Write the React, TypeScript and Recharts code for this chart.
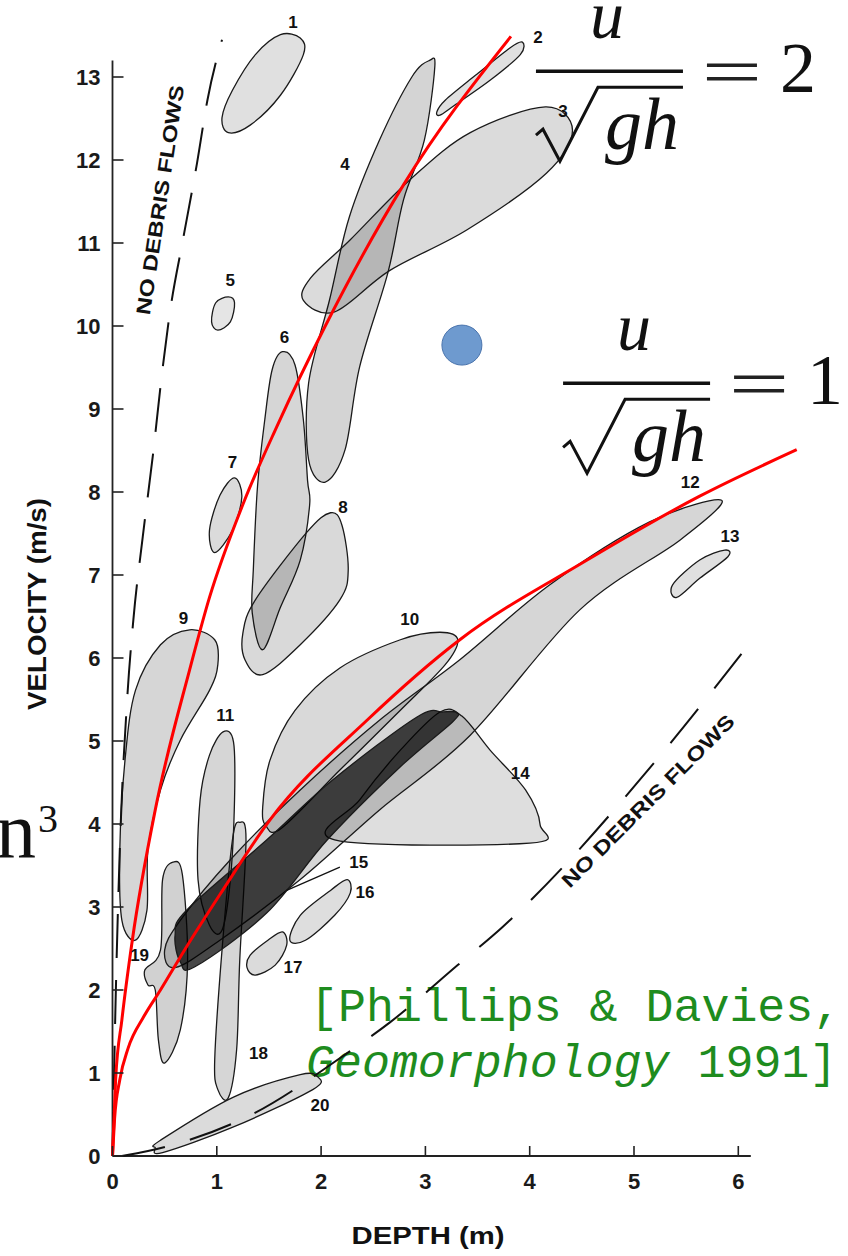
import React from "react";
import { ScatterChart, Scatter, XAxis, YAxis, ReferenceLine } from "recharts";

// depth (m) along x, velocity (m/s) along y
const xTicks = [0, 1, 2, 3, 4, 5, 6];
const yTicks = [0, 1, 2, 3, 4, 5, 6, 7, 8, 9, 10, 11, 12, 13];

// outlines of the numbered fields, [depth, velocity]
const blob1 = [[1.11, 12.33], [1.32, 12.42], [1.61, 12.78], [1.83, 13.27], [1.8, 13.47], [1.61, 13.51], [1.37, 13.27], [1.15, 12.84], [1.05, 12.51]];
const blob2 = [[3.11, 12.58], [3.19, 12.72], [3.48, 13.02], [3.81, 13.35], [3.93, 13.42], [3.91, 13.27], [3.62, 12.96], [3.28, 12.66], [3.14, 12.54]];
const blob3 = [[1.83, 10.31], [2.13, 10.17], [2.66, 10.67], [3.4, 11.16], [4.16, 11.84], [4.41, 12.36], [4.15, 12.64], [3.43, 12.33], [2.85, 11.76], [2.28, 11.04], [1.9, 10.58]];
const blob4 = [[3.04, 13.2], [3.09, 13.12], [2.99, 12.24], [2.79, 11.52], [2.64, 10.64], [2.37, 9.51], [2.23, 8.51], [2.04, 8.12], [1.88, 8.39], [1.88, 9.31], [2.08, 10.31], [2.27, 11.31], [2.56, 12.24], [2.87, 13.0]];
const blob5 = [[1.11, 10.35], [1.17, 10.28], [1.13, 10.05], [1.01, 9.95], [0.95, 10.05], [0.99, 10.28]];
const blob6 = [[1.63, 9.69], [1.75, 9.53], [1.83, 8.87], [1.87, 8.14], [1.89, 7.84], [1.8, 7.18], [1.61, 6.61], [1.44, 6.1], [1.34, 6.54], [1.35, 7.06], [1.39, 8.06], [1.46, 8.87], [1.53, 9.47]];
const blob7 = [[1.17, 8.17], [1.24, 7.94], [1.15, 7.54], [0.98, 7.27], [0.93, 7.54], [1.03, 7.96]];
const blob8 = [[2.09, 7.75], [2.2, 7.6], [2.26, 7.06], [2.18, 6.7], [1.8, 6.16], [1.44, 5.8], [1.27, 5.98], [1.25, 6.3], [1.37, 6.7], [1.86, 7.51]];
const blob9 = [[0.74, 6.34], [0.98, 6.22], [1.01, 5.92], [0.93, 5.61], [0.65, 5.01], [0.46, 4.41], [0.34, 3.69], [0.33, 2.96], [0.22, 2.6], [0.09, 2.84], [0.07, 3.69], [0.12, 4.77], [0.22, 5.61], [0.46, 6.16]];
const blob10 = [[3.14, 6.31], [3.31, 6.22], [3.19, 5.92], [2.76, 5.37], [2.18, 4.65], [1.62, 3.95], [1.47, 3.98], [1.44, 4.2], [1.51, 4.77], [1.75, 5.37], [2.18, 5.88], [2.76, 6.22]];
const blob11 = [[1.06, 5.11], [1.16, 4.99], [1.17, 4.29], [1.13, 3.33], [1.05, 2.72], [0.93, 2.78], [0.82, 3.33], [0.84, 4.29], [0.93, 4.83]];
const blob12 = [[5.84, 7.9], [5.15, 7.64], [4.19, 6.88], [3.33, 5.98], [2.56, 5.25], [1.8, 4.41], [1.13, 3.57], [0.65, 2.84], [0.5, 2.48], [0.6, 2.27], [1.03, 2.6], [1.8, 3.33], [2.56, 4.17], [3.43, 5.07], [4.48, 6.58], [5.44, 7.42]];
const blob13 = [[5.41, 6.73], [5.63, 6.96], [5.9, 7.22], [5.87, 7.3], [5.63, 7.18], [5.37, 6.88]];
const blob14 = [[2.13, 3.81], [4.0, 3.77], [4.1, 3.99], [3.96, 4.41], [3.62, 4.89], [3.35, 5.3], [3.14, 5.35], [2.76, 4.89], [2.37, 4.29]];
const blob15 = [[3.17, 5.35], [2.92, 5.29], [2.11, 4.53], [1.48, 3.81], [0.71, 2.96], [0.6, 2.66], [0.65, 2.34], [0.79, 2.28], [1.48, 2.93], [2.06, 3.81], [2.76, 4.69], [3.26, 5.23], [3.3, 5.34]];
const blob16 = [[1.7, 2.6], [1.8, 2.9], [2.09, 3.2], [2.25, 3.33], [2.28, 3.17], [2.13, 2.9], [1.85, 2.6]];
const blob17 = [[1.32, 2.42], [1.49, 2.6], [1.63, 2.7], [1.67, 2.54], [1.56, 2.3], [1.37, 2.18], [1.29, 2.27]];
const blob18 = [[1.22, 4.02], [1.28, 3.81], [1.22, 2.36], [1.19, 1.28], [1.11, 0.7], [1.01, 0.8], [0.98, 1.16], [1.05, 2.48], [1.15, 3.81]];
const blob19 = [[0.58, 3.54], [0.67, 3.39], [0.72, 2.36], [0.65, 1.52], [0.5, 1.12], [0.44, 1.4], [0.41, 2.0], [0.34, 2.06], [0.31, 2.24], [0.46, 2.48], [0.48, 3.33]];
const blob20 = [[0.41, 0.1], [0.46, 0.19], [1.16, 0.71], [1.8, 0.98], [1.97, 0.95], [1.92, 0.8], [1.16, 0.35], [0.48, 0.04]];

// boundary lines and the two Froude curves
const leftLimit = [[0, 0], [0.03, 1.88], [0.07, 3.69], [0.14, 5.49], [0.2, 6.46], [0.29, 7.46], [0.39, 8.47], [0.46, 9.27], [0.55, 10.16], [0.68, 11.07], [0.81, 11.96], [0.91, 12.72], [1.05, 13.45]];
const rightLimit = [[0.09, 0], [0.34, 0.06], [1.32, 0.49], [2.25, 1.24], [2.66, 1.61], [3.31, 2.3], [3.74, 2.76], [5.32, 4.93], [6.11, 6.18]];
const froude2 = [[0, 0], [0.03, 0.92], [0.09, 1.64], [0.19, 2.6], [0.41, 4.17], [0.74, 5.86], [0.93, 6.73], [1.25, 7.85], [1.58, 8.8], [2.04, 10.0], [2.79, 11.7], [3.82, 13.49]];
const froude1 = [[0, 0], [0.02, 0.45], [0.07, 0.92], [0.15, 1.3], [0.3, 1.68], [0.46, 2.0], [0.7, 2.5], [1.03, 3.15], [1.51, 4.05], [2.44, 5.25], [3.33, 6.22], [4.51, 7.15], [5.63, 7.95], [6.56, 8.51]];
const leader15 = [[2.18, 3.48], [1.67, 3.2]];

const fieldLabels = [
  { x: 1.73, y: 13.66, t: "1" }, { x: 4.08, y: 13.48, t: "2" }, { x: 4.32, y: 12.58, t: "3" },
  { x: 2.23, y: 11.94, t: "4" }, { x: 1.13, y: 10.55, t: "5" }, { x: 1.65, y: 9.86, t: "6" },
  { x: 1.15, y: 8.35, t: "7" }, { x: 2.21, y: 7.81, t: "8" }, { x: 0.68, y: 6.48, t: "9" },
  { x: 2.85, y: 6.46, t: "10" }, { x: 1.08, y: 5.31, t: "11" }, { x: 5.54, y: 8.11, t: "12" },
  { x: 5.92, y: 7.46, t: "13" }, { x: 3.91, y: 4.61, t: "14" }, { x: 2.36, y: 3.54, t: "15" },
  { x: 2.42, y: 3.17, t: "16" }, { x: 1.73, y: 2.27, t: "17" }, { x: 1.4, y: 1.24, t: "18" },
  { x: 0.26, y: 2.42, t: "19" }, { x: 1.99, y: 0.61, t: "20" },
];
const formulas = [
  { x: 4.06, y: 13.07, rhs: "2" },
  { x: 4.32, y: 9.31, rhs: "1" },
];
const marker = [{ x: 3.35, y: 9.77 }];

const toPts = (arr: number[][]) => arr.map(([x, y]) => ({ x, y }));

const blobs = [
  { id: "b9", pts: blob9, shade: 0.16 },
  { id: "b11", pts: blob11, shade: 0.16 },
  { id: "b18", pts: blob18, shade: 0.16 },
  { id: "b19", pts: blob19, shade: 0.18 },
  { id: "b20", pts: blob20, shade: 0.14 },
  { id: "b10", pts: blob10, shade: 0.15 },
  { id: "b14", pts: blob14, shade: 0.13 },
  { id: "b12", pts: blob12, shade: 0.16 },
  { id: "b15", pts: blob15, shade: 0.72 },
  { id: "b16", pts: blob16, shade: 0.13 },
  { id: "b17", pts: blob17, shade: 0.14 },
  { id: "b13", pts: blob13, shade: 0.12 },
  { id: "b6", pts: blob6, shade: 0.16 },
  { id: "b8", pts: blob8, shade: 0.15 },
  { id: "b7", pts: blob7, shade: 0.14 },
  { id: "b5", pts: blob5, shade: 0.1 },
  { id: "b4", pts: blob4, shade: 0.17 },
  { id: "b3", pts: blob3, shade: 0.14 },
  { id: "b2", pts: blob2, shade: 0.12 },
  { id: "b1", pts: blob1, shade: 0.12 },
];

const SANS = "'Liberation Sans', Arial, Helvetica, sans-serif";
const SERIF = "'Liberation Serif', 'Times New Roman', serif";
const MONO = "'Liberation Mono', 'Courier New', monospace";

// closed catmull-rom through the pixel points
const closedPath = (pts: { x: number; y: number }[]) => {
  const n = pts.length;
  let d = `M${pts[0].x},${pts[0].y}`;
  for (let i = 0; i < n; i++) {
    const p0 = pts[(i - 1 + n) % n];
    const p1 = pts[i];
    const p2 = pts[(i + 1) % n];
    const p3 = pts[(i + 2) % n];
    const c1x = p1.x + (p2.x - p0.x) / 6;
    const c1y = p1.y + (p2.y - p0.y) / 6;
    const c2x = p2.x - (p3.x - p1.x) / 6;
    const c2y = p2.y - (p3.y - p1.y) / 6;
    d += ` C${c1x},${c1y} ${c2x},${c2y} ${p2.x},${p2.y}`;
  }
  return d + "Z";
};

const noDot = () => <g />;

const XTick = (p: any) => (
  <g>
    <line x1={p.x} x2={p.x} y1={p.y} y2={p.y - 10} stroke="#222" strokeWidth={1.6} />
    <text x={p.x} y={p.y + 33} textAnchor="middle" fontFamily={SANS} fontSize={22} fontWeight="bold" fill="#1a1a1a">
      {p.payload.value}
    </text>
  </g>
);

const YTick = (p: any) => (
  <g>
    <line x1={p.x} x2={p.x + 11} y1={p.y} y2={p.y} stroke="#222" strokeWidth={1.6} />
    <text x={p.x - 12} y={p.y + 8} textAnchor="end" fontFamily={SANS} fontSize={22} fontWeight="bold" fill="#1a1a1a">
      {p.payload.value}
    </text>
  </g>
);

const FieldLabel = (p: any) => (
  <text x={p.cx} y={p.cy} textAnchor="middle" dominantBaseline="central" fontFamily={SANS} fontSize={17} fontWeight="bold" fill="#111">
    {p.payload.t}
  </text>
);

const Formula = (p: any) => (
  <g transform={`translate(${p.cx},${p.cy})`} fill="#111" fontFamily={SERIF}>
    <text x={71} y={-33} fontSize={68} fontStyle="italic" textAnchor="middle">u</text>
    <line x1={0} x2={147} y1={0} y2={0} stroke="#111" strokeWidth={3.4} />
    <path d="M0,64 L7,58 L24,90 L62,16 L147,16" fill="none" stroke="#111" strokeWidth={3} />
    <text x={106} y={78} fontSize={74} fontStyle="italic" textAnchor="middle">gh</text>
    <line x1={171} x2={221} y1={-6} y2={-6} stroke="#222" strokeWidth={3.4} />
    <line x1={171} x2={221} y1={7.5} y2={7.5} stroke="#222" strokeWidth={3.4} />
    <text x={262} y={21} fontSize={72} textAnchor="middle">{p.payload.rhs}</text>
  </g>
);

const Dot = (p: any) => <circle cx={p.cx} cy={p.cy} r={20} fill="#6e9acf" stroke="#4a74ad" strokeWidth={1} />;

export default function App() {
  return (
    <div style={{ position: "absolute", left: 0, top: 0, width: 848, height: 1256, background: "#fff" }}>
      <ScatterChart width={848} height={1256} margin={{ top: 2.3, right: 5.4, bottom: 60, left: 52.5 }}>
        <XAxis
          type="number"
          dataKey="x"
          domain={[0, 7]}
          ticks={xTicks}
          interval={0}
          height={40}
          axisLine={false}
          tickLine={false}
          tickSize={0}
          tickMargin={0}
          tick={XTick}
        />
        <YAxis
          type="number"
          dataKey="y"
          domain={[0, 13.9]}
          ticks={yTicks}
          interval={0}
          width={60}
          axisLine={false}
          tickLine={false}
          tickSize={0}
          tickMargin={0}
          tick={YTick}
        />

        {blobs.map((b) => (
          <Scatter
            key={b.id}
            data={toPts(b.pts)}
            shape={noDot}
            isAnimationActive={false}
            line={(lp: any) => (
              <path d={closedPath(lp.points)} fill="#000" fillOpacity={b.shade} stroke="#1a1a1a" strokeWidth={1.3} />
            )}
          />
        ))}

        <Scatter data={toPts(leftLimit)} shape={noDot} isAnimationActive={false} lineJointType="monotoneX"
          line={{ stroke: "#111", strokeWidth: 2, strokeDasharray: "44 22" }} />
        <Scatter data={toPts(rightLimit)} shape={noDot} isAnimationActive={false} lineJointType="monotoneX"
          line={{ stroke: "#111", strokeWidth: 2, strokeDasharray: "44 26" }} />
        <Scatter data={toPts(leader15)} shape={noDot} isAnimationActive={false}
          line={{ stroke: "#111", strokeWidth: 1.2 }} />

        <ReferenceLine segment={[{ x: 0, y: 0 }, { x: 6.12, y: 0 }]} stroke="#222" strokeWidth={1.8} />
        <ReferenceLine segment={[{ x: 0, y: 0 }, { x: 0, y: 13.2 }]} stroke="#222" strokeWidth={1.8} />

        <Scatter data={toPts(froude2)} shape={noDot} isAnimationActive={false} lineJointType="monotoneX"
          line={{ stroke: "#ff0000", strokeWidth: 3 }} />
        <Scatter data={toPts(froude1)} shape={noDot} isAnimationActive={false} lineJointType="monotoneX"
          line={{ stroke: "#ff0000", strokeWidth: 3 }} />

        <Scatter data={fieldLabels} shape={FieldLabel} isAnimationActive={false} />
        <Scatter data={formulas} shape={Formula} isAnimationActive={false} />
        <Scatter data={marker} shape={Dot} isAnimationActive={false} />

        <text x={160} y={200} transform="rotate(-81.5 160 200)" textAnchor="middle" dominantBaseline="central"
          fontFamily={SANS} fontSize={20} fontWeight="bold" fill="#111" textLength={232} lengthAdjust="spacingAndGlyphs">
          NO DEBRIS FLOWS
        </text>
        <text x={648} y={801} transform="rotate(-45 648 801)" textAnchor="middle" dominantBaseline="central"
          fontFamily={SANS} fontSize={20} fontWeight="bold" fill="#111" textLength={235} lengthAdjust="spacingAndGlyphs">
          NO DEBRIS FLOWS
        </text>

        <text x={46} y={604} transform="rotate(-90 46 604)" textAnchor="middle" fontFamily={SANS} fontSize={25}
          fontWeight="bold" fill="#111" textLength={212} lengthAdjust="spacingAndGlyphs">
          VELOCITY (m/s)
        </text>
        <text x={428} y={1244} textAnchor="middle" fontFamily={SANS} fontSize={23} fontWeight="bold" fill="#111"
          textLength={153} lengthAdjust="spacingAndGlyphs">
          DEPTH (m)
        </text>

        <text x={36} y={857} textAnchor="end" fontFamily={SERIF} fontSize={80} fill="#111">n</text>
        <text x={38} y={832} fontFamily={SERIF} fontSize={40} fill="#111">3</text>

        <text x={310} y={1021} fontFamily={MONO} fontSize={46.6} fill="#1e8c1e">
          [Phillips &amp; Davies,
        </text>
        <text x={306} y={1077} fontFamily={MONO} fontSize={46.6} fill="#1e8c1e">
          <tspan fontStyle="italic">Geomorphology</tspan> 1991]
        </text>
      </ScatterChart>
    </div>
  );
}
